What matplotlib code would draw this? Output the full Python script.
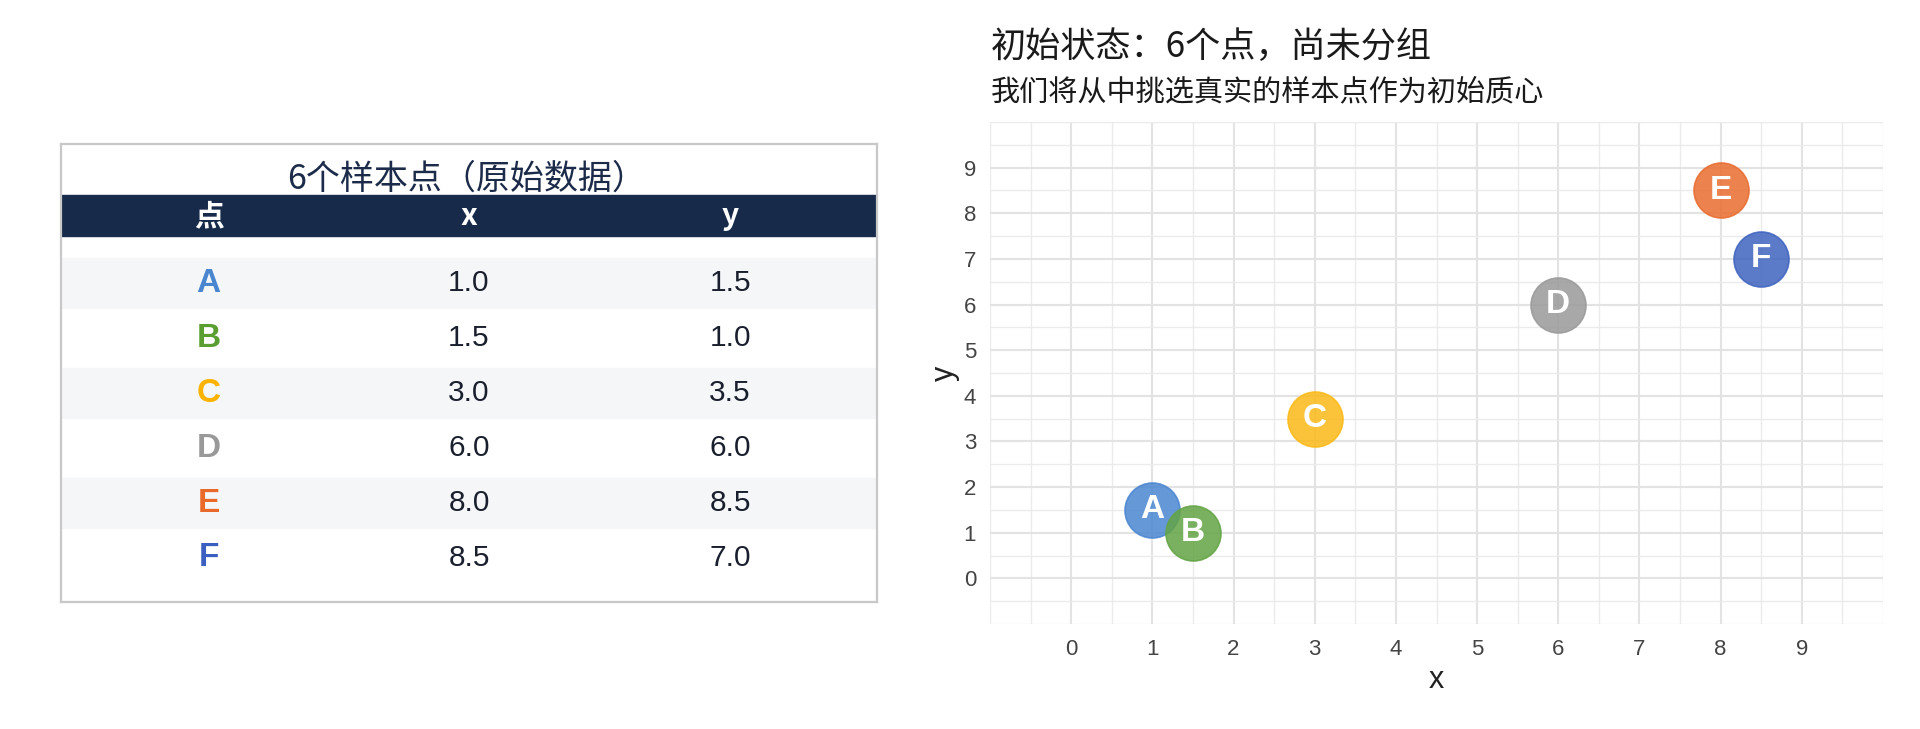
import matplotlib
matplotlib.use("Agg")
import matplotlib.pyplot as plt
import numpy as np

# ---- data ----
labels = ["A", "B", "C", "D", "E", "F"]
xs = [1.0, 1.5, 3.0, 6.0, 8.0, 8.5]
ys = [1.5, 1.0, 3.5, 6.0, 8.5, 7.0]
point_colors = ["#4a86d0", "#63a444", "#fbb917", "#999999", "#e96c2f", "#3e63bf"]
table_letter_colors = ["#4a86d0", "#5a9e32", "#fbb300", "#999999", "#e8692a", "#3a5fc0"]
header = ["点", "x", "y"]
table_title = "6个样本点（原始数据）"
chart_title = "初始状态：6个点，尚未分组"
chart_subtitle = "我们将从中挑选真实的样本点作为初始质心"
xticks = list(range(0, 10))
yticks = list(range(0, 10))

W, H = 1920, 729
fig = plt.figure(figsize=(W / 100, H / 100), dpi=100)
fig.patch.set_facecolor("white")

CJK = ["Noto Sans CJK SC", "DejaVu Sans"]
LAT = ["Liberation Sans", "DejaVu Sans"]

def px_box(l, t, r, b):
    return [l / W, 1 - b / H, (r - l) / W, (b - t) / H]

# ---------------- table ----------------
tb_l, tb_t, tb_r, tb_b = 61, 144, 877, 602
tax = fig.add_axes(px_box(tb_l, tb_t, tb_r, tb_b))
row_pitch = 55.0
row0 = 283.0
top_u = (tb_t - row0) / row_pitch
bot_u = (tb_b - row0) / row_pitch
tax.set_xlim(0, 1)
tax.set_ylim(bot_u, top_u)
tax.set_xticks([])
tax.set_yticks([])
for s in tax.spines.values():
    s.set_color("#c8c8c8")
    s.set_linewidth(1.6)

col_x = [0.181, 0.5, 0.82]
# title
tax.text(0.497, (179 - row0) / row_pitch, table_title, ha="center", va="center",
         family=CJK, fontsize=24.5, color="#1c2b4a")
# header band
hb_t = (195 - row0) / row_pitch
hb_b = (236 - row0) / row_pitch
tax.axhspan(hb_t, hb_b, color="#172a4a", zorder=1)
for cx, h in zip(col_x, header):
    tax.text(cx, (216 - row0) / row_pitch, h, ha="center", va="center",
             family=CJK, fontsize=21.5, fontweight="bold", color="white", zorder=3)
# rows
band_half = 25.0 / row_pitch
for i, (lab, xv, yv, c) in enumerate(zip(labels, xs, ys, table_letter_colors)):
    if i % 2 == 0:
        tax.axhspan(i - band_half, i + band_half, color="#f5f6f8", zorder=0)
    tax.text(col_x[0], i, lab, ha="center", va="center", family=LAT,
             fontsize=24, fontweight="bold", color=c)
    tax.text(col_x[1], i, f"{xv:.1f}", ha="center", va="center", family=LAT,
             fontsize=21.5, color="#1a1f2e")
    tax.text(col_x[2], i, f"{yv:.1f}", ha="center", va="center", family=LAT,
             fontsize=21.5, color="#1a1f2e")

# ---------------- scatter chart ----------------
ax = fig.add_axes(px_box(990, 122, 1883, 624))
ax.set_xlim(-1, 10)
ax.set_ylim(-1, 10)
ax.set_xticks(xticks)
ax.set_yticks(yticks)
ax.set_xticks(np.arange(-1, 10.01, 0.5), minor=True)
ax.set_yticks(np.arange(-1, 10.01, 0.5), minor=True)
ax.grid(which="major", color="#e3e3e3", linewidth=1.5, zorder=0)
ax.grid(which="minor", color="#ebebeb", linewidth=1.0, zorder=0)
ax.set_axisbelow(True)
for s in ax.spines.values():
    s.set_visible(False)
ax.tick_params(which="both", length=0)
ax.tick_params(axis="x", which="major", pad=11, labelsize=16, labelcolor="#444444")
ax.tick_params(axis="y", which="major", pad=10, labelsize=16, labelcolor="#444444")
for lbl in ax.get_xticklabels() + ax.get_yticklabels():
    lbl.set_family(LAT)

marker_size = (55 * 0.72) ** 2
for lab, xv, yv, c in zip(labels, xs, ys, point_colors):
    ax.scatter([xv], [yv], s=marker_size, color=c, alpha=0.85,
               edgecolors=c, linewidths=1.2, zorder=3)
    ax.text(xv, yv, lab, ha="center", va="center", family=LAT, fontsize=24,
            fontweight="bold", color="white", zorder=4)

ax.set_xlabel("x", family=LAT, fontsize=22, color="#222222", va="center")
ax.set_ylabel("y", family=LAT, fontsize=22, color="#222222", va="center")
ax.xaxis.set_label_coords(0.5, (624 - 679.5) / 502)
ax.yaxis.set_label_coords((945 - 990) / 893, 0.5)

fig.text(991 / W, 1 - 47 / H, chart_title, ha="left", va="center", family=CJK,
         fontsize=25.3, color="#1a1a1a")
fig.text(991 / W, 1 - 92 / H, chart_subtitle, ha="left", va="center", family=CJK,
         fontsize=21, color="#1a1a1a")

fig.savefig("out.png", dpi=100, facecolor="white")
